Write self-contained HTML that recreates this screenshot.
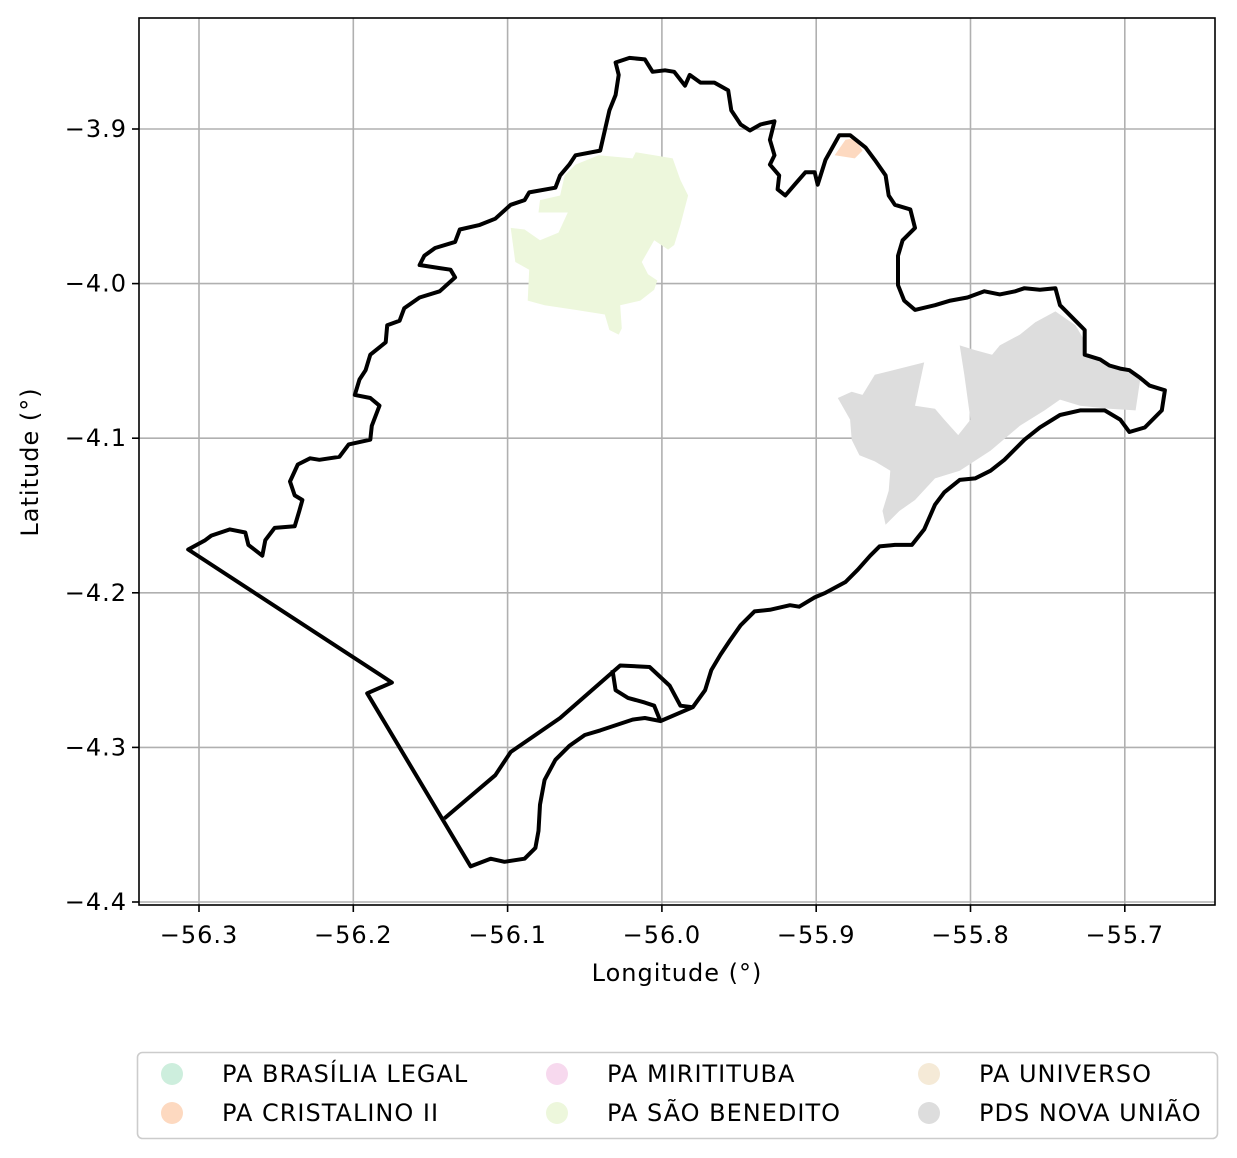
<!DOCTYPE html>
<html><head><meta charset="utf-8">
<style>
html,body{margin:0;padding:0;background:#fff;}
svg{display:block;font-family:"DejaVu Sans","Liberation Sans",sans-serif;}
text{letter-spacing:1px;}
</style></head>
<body>
<svg id="chart" width="1237" height="1158" viewBox="0 0 1237 1158"></svg>
<script>
const xTicks = [-56.3, -56.2, -56.1, -56.0, -55.9, -55.8, -55.7];
const yTicks = [-3.9, -4.0, -4.1, -4.2, -4.3, -4.4];
const outlineLon = [-56.307,-56.296,-56.292,-56.280,-56.270,-56.268,-56.259,-56.257,-56.251,-56.238,-56.235,-56.233,-56.238,-56.241,-56.236,-56.228,-56.222,-56.209,-56.203,-56.189,-56.188,-56.183,-56.189,-56.199,-56.196,-56.192,-56.189,-56.179,-56.178,-56.170,-56.167,-56.157,-56.144,-56.134,-56.137,-56.144,-56.157,-56.154,-56.147,-56.134,-56.131,-56.118,-56.108,-56.098,-56.089,-56.086,-56.069,-56.066,-56.060,-56.056,-56.040,-56.037,-56.034,-56.030,-56.028,-56.030,-56.021,-56.011,-56.006,-55.998,-55.992,-55.985,-55.982,-55.975,-55.966,-55.957,-55.955,-55.949,-55.943,-55.936,-55.927,-55.930,-55.927,-55.930,-55.924,-55.925,-55.920,-55.914,-55.907,-55.901,-55.899,-55.894,-55.885,-55.878,-55.868,-55.862,-55.855,-55.853,-55.849,-55.839,-55.836,-55.844,-55.847,-55.847,-55.843,-55.836,-55.823,-55.813,-55.802,-55.791,-55.781,-55.771,-55.765,-55.755,-55.745,-55.742,-55.732,-55.726,-55.726,-55.716,-55.710,-55.703,-55.697,-55.690,-55.684,-55.674,-55.676,-55.687,-55.697,-55.703,-55.713,-55.729,-55.742,-55.755,-55.765,-55.778,-55.787,-55.797,-55.807,-55.817,-55.823,-55.830,-55.838,-55.849,-55.859,-55.865,-55.873,-55.881,-55.894,-55.901,-55.911,-55.917,-55.930,-55.940,-55.949,-55.956,-55.962,-55.968,-55.972,-55.980,-56.001,-56.011,-56.019,-56.040,-56.050,-56.060,-56.069,-56.076,-56.079,-56.080,-56.082,-56.089,-56.102,-56.111,-56.124,-56.191,-56.175];
const outlineLat = [-4.172,-4.166,-4.163,-4.159,-4.161,-4.169,-4.176,-4.166,-4.158,-4.157,-4.147,-4.140,-4.137,-4.128,-4.117,-4.113,-4.114,-4.112,-4.104,-4.101,-4.092,-4.079,-4.074,-4.072,-4.062,-4.056,-4.046,-4.038,-4.027,-4.024,-4.016,-4.009,-4.005,-3.996,-3.991,-3.990,-3.988,-3.982,-3.977,-3.973,-3.965,-3.962,-3.958,-3.949,-3.946,-3.941,-3.938,-3.930,-3.923,-3.917,-3.914,-3.901,-3.888,-3.878,-3.865,-3.857,-3.854,-3.855,-3.863,-3.862,-3.863,-3.872,-3.865,-3.870,-3.870,-3.875,-3.888,-3.897,-3.901,-3.897,-3.895,-3.907,-3.917,-3.923,-3.930,-3.939,-3.943,-3.936,-3.928,-3.928,-3.936,-3.920,-3.904,-3.904,-3.912,-3.920,-3.930,-3.943,-3.949,-3.952,-3.964,-3.972,-3.982,-4.001,-4.011,-4.017,-4.014,-4.011,-4.009,-4.005,-4.007,-4.005,-4.003,-4.004,-4.003,-4.014,-4.024,-4.030,-4.046,-4.049,-4.053,-4.055,-4.056,-4.061,-4.066,-4.069,-4.082,-4.093,-4.096,-4.088,-4.082,-4.082,-4.085,-4.093,-4.101,-4.114,-4.121,-4.126,-4.127,-4.135,-4.143,-4.159,-4.169,-4.169,-4.170,-4.176,-4.185,-4.193,-4.200,-4.203,-4.209,-4.208,-4.211,-4.212,-4.221,-4.231,-4.240,-4.250,-4.263,-4.274,-4.283,-4.281,-4.282,-4.289,-4.292,-4.299,-4.308,-4.321,-4.337,-4.354,-4.365,-4.372,-4.374,-4.372,-4.377,-4.265,-4.258];
const innerLon = [-56.141,-56.108,-56.098,-56.066,-56.027,-56.008,-55.995,-55.988,-55.980];
const innerLat = [-4.346,-4.318,-4.303,-4.281,-4.247,-4.248,-4.260,-4.273,-4.274];
const loopLon = [-56.032,-56.030,-56.022,-56.011,-56.005,-56.003,-56.001];
const loopLat = [-4.250,-4.263,-4.268,-4.271,-4.273,-4.278,-4.283];
const beneditoLon = [-56.098,-56.095,-56.086,-56.087,-56.076,-56.056,-56.037,-56.034,-56.028,-56.026,-56.027,-56.014,-56.005,-56.003,-56.009,-56.013,-56.005,-55.996,-55.992,-55.988,-55.983,-55.988,-55.993,-56.005,-56.017,-56.019,-56.041,-56.056,-56.063,-56.066,-56.079,-56.080,-56.061,-56.067,-56.079,-56.089];
const beneditoLat = [-3.964,-3.986,-3.991,-4.011,-4.014,-4.017,-4.020,-4.030,-4.033,-4.029,-4.014,-4.011,-4.004,-3.998,-3.994,-3.986,-3.972,-3.978,-3.975,-3.962,-3.943,-3.933,-3.919,-3.917,-3.915,-3.919,-3.917,-3.923,-3.930,-3.943,-3.946,-3.954,-3.954,-3.967,-3.972,-3.965];
const novaLon = [-55.886,-55.877,-55.870,-55.862,-55.830,-55.836,-55.823,-55.817,-55.808,-55.800,-55.804,-55.807,-55.797,-55.786,-55.781,-55.768,-55.758,-55.745,-55.732,-55.726,-55.726,-55.716,-55.700,-55.690,-55.693,-55.710,-55.729,-55.742,-55.752,-55.768,-55.787,-55.807,-55.823,-55.836,-55.846,-55.855,-55.857,-55.853,-55.852,-55.862,-55.872,-55.877,-55.878];
const novaLat = [-4.074,-4.070,-4.072,-4.059,-4.051,-4.079,-4.081,-4.088,-4.098,-4.088,-4.059,-4.040,-4.043,-4.046,-4.040,-4.033,-4.025,-4.018,-4.027,-4.037,-4.044,-4.051,-4.055,-4.062,-4.082,-4.081,-4.079,-4.075,-4.082,-4.092,-4.108,-4.121,-4.126,-4.140,-4.147,-4.156,-4.147,-4.134,-4.121,-4.115,-4.111,-4.101,-4.088];
const cristalinoLon = [-55.888,-55.881,-55.875,-55.870,-55.875];
const cristalinoLat = [-3.917,-3.907,-3.906,-3.914,-3.919];
const legendLabels = ["PA BRASÍLIA LEGAL","PA CRISTALINO II","PA MIRITITUBA","PA SÃO BENEDITO","PA UNIVERSO","PDS NOVA UNIÃO"];
const legendColors = ["#cdeedd","#fdd9c0","#f7d9ee","#edf7dc","#f5ead7","#dddddd"];

const NS = "http://www.w3.org/2000/svg";
const svg = document.getElementById('chart');
const L = 139, R = 1215, T = 18, B = 905;
function sx(lon){ return 199 + (lon + 56.3) * 1543; }
function sy(lat){ return 129 + (-3.9 - lat) * 1546; }
function mk(tag, attrs, parent){
  const e = document.createElementNS(NS, tag);
  for (const k in attrs) e.setAttribute(k, attrs[k]);
  (parent || svg).appendChild(e);
  return e;
}
function pts(lons, lats){ return lons.map((v,i)=>sx(v).toFixed(1)+','+sy(lats[i]).toFixed(1)).join(' '); }

xTicks.forEach(v=>{
  const g = mk('line',{x1:sx(v),x2:sx(v),y1:T,y2:B,stroke:'#b0b0b0','stroke-width':1.6});
  
  
});
yTicks.forEach(v=>{
  const g = mk('line',{x1:L,x2:R,y1:sy(v),y2:sy(v),stroke:'#b0b0b0','stroke-width':1.6});
  
  
});

const rb = mk('polygon',{points:pts(beneditoLon,beneditoLat),fill:'#edf7dc'});


const rn = mk('polygon',{points:pts(novaLon,novaLat),fill:'#dddddd'});


const rc = mk('polygon',{points:pts(cristalinoLon,cristalinoLat),fill:'#fdd9c0'});



const ol = mk('polygon',{points:pts(outlineLon,outlineLat),fill:'none',stroke:'#000','stroke-width':4,'stroke-linejoin':'round'});


const il = mk('polyline',{points:pts(innerLon,innerLat),fill:'none',stroke:'#000','stroke-width':4,'stroke-linejoin':'round'});


const lp = mk('polyline',{points:pts(loopLon,loopLat),fill:'none',stroke:'#000','stroke-width':4,'stroke-linejoin':'round'});



const fr = mk('rect',{x:L,y:T,width:R-L,height:B-T,fill:'none',stroke:'#000','stroke-width':1.6});



xTicks.forEach(v=>{
  const t = mk('line',{x1:sx(v),x2:sx(v),y1:B,y2:B+7,stroke:'#000','stroke-width':1.6});
  
  
  const tx = mk('text',{x:sx(v),y:B+38,'text-anchor':'middle','font-size':24,fill:'#000'});
  tx.textContent = '\u2212' + Math.abs(v).toFixed(1);
  
  
});
yTicks.forEach(v=>{
  const t = mk('line',{x1:L-7,x2:L,y1:sy(v),y2:sy(v),stroke:'#000','stroke-width':1.6});
  
  
  const tx = mk('text',{x:L-12,y:sy(v)+8,'text-anchor':'end','font-size':24,fill:'#000'});
  tx.textContent = '\u2212' + Math.abs(v).toFixed(1);
  
  
});

const xl = mk('text',{x:677,y:981,'text-anchor':'middle','font-size':24,fill:'#000'});
xl.textContent = 'Longitude (°)';


const yl = mk('text',{x:0,y:0,'text-anchor':'middle','font-size':24,fill:'#000',transform:'translate(38,462) rotate(-90)'});
yl.textContent = 'Latitude (°)';



const lg = mk('g',{});


const lb = mk('rect',{x:137.5,y:1052.5,width:1080,height:86,rx:5,fill:'#fff',stroke:'#ccc','stroke-width':1.6},lg);


const colX = [172, 557, 929];
const rowY = [1074, 1113];
legendLabels.forEach((lab,i)=>{
  const c = Math.floor(i/2), r = i%2;
  const e = mk('g',{},lg);
  
  
  mk('circle',{cx:colX[c],cy:rowY[r],r:11,fill:legendColors[i]},e);
  const t = mk('text',{x:colX[c]+50,y:rowY[r]+8,'font-size':24,fill:'#000'},e);
  t.textContent = lab;
});
</script>
</body></html>
